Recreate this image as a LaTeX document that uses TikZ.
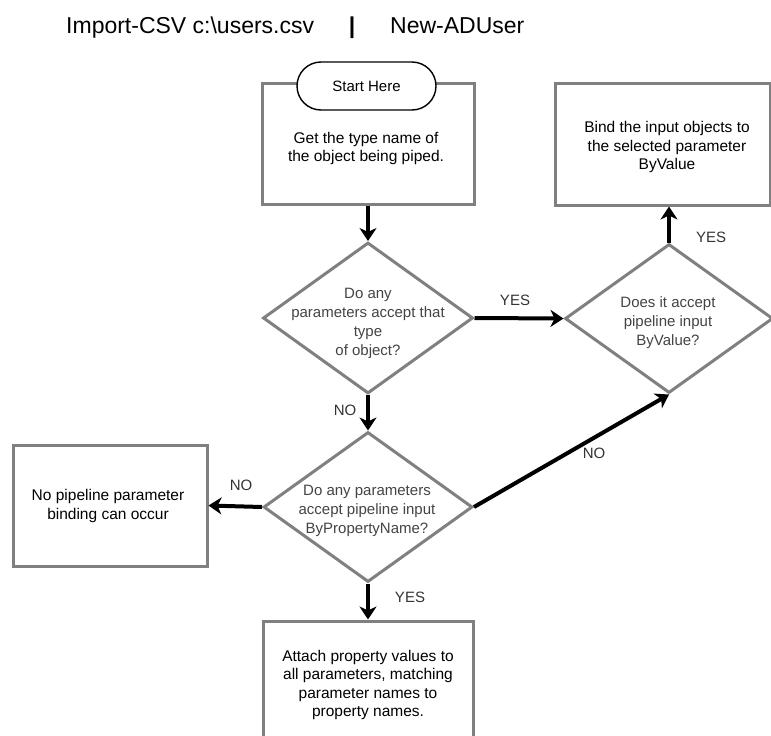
\documentclass[tikz,border=0pt]{standalone}
\usepackage{fontspec}
\setmainfont{Liberation Sans}
\usetikzlibrary{shapes.geometric,shapes.misc,arrows.meta}
\definecolor{boxgray}{HTML}{808080}
\definecolor{qtext}{HTML}{444444}
\definecolor{lbltext}{HTML}{333333}
\begin{document}
\begin{tikzpicture}[x=1pt,y=-1pt,
  procbox/.style={rectangle, draw=boxgray, line width=3pt, fill=white, inner sep=0pt},
  decision/.style={diamond, draw=boxgray, line width=3pt, inner sep=0pt},
  terminal/.style={rounded rectangle, draw=black, line width=1.4pt, fill=white, inner sep=0pt,
    font=\fontsize{15}{18}\selectfont},
  boxtext/.style={align=center, font=\fontsize{15.5}{18.5}\selectfont, text=black, inner sep=0pt},
  qtextstyle/.style={align=center, font=\fontsize{15}{19}\selectfont, text=qtext, inner sep=0pt},
  lbl/.style={font=\fontsize{15}{18}\selectfont, text=lbltext, inner sep=0pt},
  titletext/.style={font=\fontsize{23}{27}\selectfont, inner sep=0pt},
  arr/.style={line width=4pt, -{Stealth[length=13pt,width=17pt,inset=4pt]}}]
\path[use as bounding box, clip] (0,0) rectangle (771,736);
\fill[white] (0,0) rectangle (771,736);

% title
\node[titletext, anchor=base west] (cmd1) at (66,33) {Import-CSV c:\textbackslash users.csv};
\node[titletext, anchor=base, font=\fontsize{23}{27}\selectfont\bfseries] (pipe) at (352,33) {|};
\node[titletext, anchor=base west] (cmd2) at (390,33) {New-ADUser};

% boxes
\node[procbox, minimum width=212pt, minimum height=121pt] (getbox) at (368,143.5) {};
\node[terminal, minimum width=139pt, minimum height=48pt] (start) at (366.5,86) {Start Here};
\node[boxtext] (gettext) at (366,148.5) {Get the type name of\\the object being piped.};

\node[procbox, minimum width=215pt, minimum height=122pt] (bindbox) at (662.5,144) {};
\node[boxtext] (bindtext) at (667,147) {Bind the input objects to\\the selected parameter\\ByValue};

\node[procbox, minimum width=194pt, minimum height=121pt] (nobox) at (110,505.5) {};
\node[boxtext] (notext) at (108,506) {No pipeline parameter\\binding can occur};

\node[procbox, minimum width=210pt, minimum height=121pt] (attbox) at (368,681.5) {};
\node[boxtext] (atttext) at (368,685) {Attach property values to\\all parameters, matching\\parameter names to\\property names.};

% decisions
\node[decision, minimum width=210pt, minimum height=151pt] (q1) at (368,318) {};
\node[qtextstyle] (q1text) at (368,323.5) {Do any\\parameters accept that\\type\\of object?};

\node[decision, minimum width=208pt, minimum height=149pt] (q2) at (669,318.5) {};
\node[qtextstyle] (q2text) at (668,323) {Does it accept\\pipeline input\\ByValue?};

\node[decision, minimum width=209pt, minimum height=150pt] (q3) at (368,507) {};
\node[qtextstyle] (q3text) at (367,511) {Do any parameters\\accept pipeline input\\ByPropertyName?};

% connectors
\draw[arr] (getbox.south) -- (q1.north);
\draw[arr] (q1.east) -- (q2.west);
\draw[arr] (q2.north) -- (q2.north |- bindbox.south);
\draw[arr] (q1.south) -- (q3.north);
\draw[arr] (q3.west) -- (nobox.east);
\draw[arr] (q3.east) -- (q2.south);
\draw[arr] (q3.south) -- (attbox.north);

% labels
\node[lbl] (yes1) at (515,300) {YES};
\node[lbl] (yes2) at (711,237) {YES};
\node[lbl] (no1) at (345,410) {NO};
\node[lbl] (no2) at (241,485) {NO};
\node[lbl] (no3) at (594,453) {NO};
\node[lbl] (yes3) at (410,597) {YES};
\end{tikzpicture}
\end{document}
